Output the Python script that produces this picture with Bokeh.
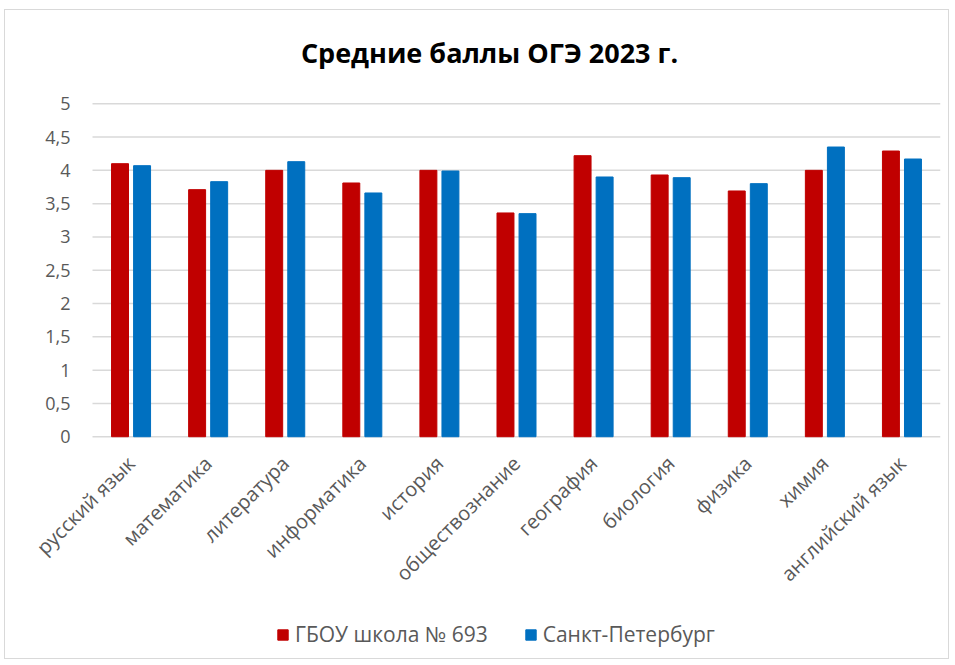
from bokeh.plotting import figure
from bokeh.models import ColumnDataSource, Range1d, Legend, LegendItem, Label
from bokeh.transform import dodge
from bokeh.core.properties import value
from bokeh.embed import file_html
from bokeh.resources import INLINE
import math

categories = ["русский язык", "математика", "литература", "информатика", "история",
              "обществознание", "география", "биология", "физика", "химия", "английский язык"]
school = [4.10, 3.71, 4.00, 3.81, 4.00, 3.36, 4.22, 3.93, 3.69, 4.00, 4.29]
spb = [4.07, 3.83, 4.13, 3.66, 3.99, 3.35, 3.90, 3.89, 3.80, 4.35, 4.17]
series_names = ["ГБОУ школа № 693", "Санкт-Петербург"]
y_ticks = [0, 0.5, 1, 1.5, 2, 2.5, 3, 3.5, 4, 4.5, 5]
y_tick_labels = ["0", "0,5", "1", "1,5", "2", "2,5", "3", "3,5", "4", "4,5", "5"]
title_text = "Средние баллы ОГЭ 2023 г."

RED = "#C00000"
BLUE = "#0070C0"
FONT = "Open Sans"
GRAY = "#595959"

n = len(categories)
idx = list(range(n))
src = ColumnDataSource(dict(idx=idx, cat=categories, school=school, spb=spb, base=[0] * n))
grid_src = ColumnDataSource(dict(y=y_ticks, lab=y_tick_labels,
                                 x0=[-0.5] * len(y_ticks), x1=[n - 0.5] * len(y_ticks)))

p = figure(x_range=Range1d(-1.6286, n - 0.5), y_range=Range1d(-3.36, 6.40),
           width=945, height=650, output_backend="svg", toolbar_location=None, title=None,
           min_border_left=0, min_border_right=10, min_border_top=0, min_border_bottom=0)
p.styles = {"border": "1px solid #d9d9d9", "margin-left": "4px", "margin-top": "9px"}
p.outline_line_color = None
p.background_fill_color = "white"
p.border_fill_color = "white"
p.xaxis.visible = False
p.yaxis.visible = False
p.xgrid.visible = False
p.ygrid.visible = False

# horizontal gridlines over the category span, with value labels on the left
p.segment(x0="x0", x1="x1", y0="y", y1="y", source=grid_src,
          line_color="#d9d9d9", line_width=1.5)
p.text(x="x0", y="y", text="lab", source=grid_src, x_offset=-22,
       text_align="right", text_baseline="middle", text_font=value(FONT),
       text_font_size="18px", text_color=GRAY)

r1 = p.vbar(x=dodge("idx", -0.143), top="school", width=0.22, source=src,
            fill_color=RED, line_color=RED)
r2 = p.vbar(x=dodge("idx", 0.143), top="spb", width=0.22, source=src,
            fill_color=BLUE, line_color=BLUE)

# category labels, rotated, hanging below the zero line
p.text(x="idx", y="base", text="cat", source=src,
       angle=math.pi / 4, text_align="right", text_baseline="middle",
       x_offset=0, y_offset=23, text_font=value(FONT), text_font_size="20px",
       text_color=GRAY)

title = Label(x=4.65, y=5.765, text=title_text, text_font=FONT,
              text_font_size="27px", text_font_style="bold", text_color="black",
              text_align="center", text_baseline="middle")
p.add_layout(title)

legend = Legend(items=[LegendItem(label=series_names[0], renderers=[r1]),
                       LegendItem(label=series_names[1], renderers=[r2])],
                orientation="horizontal", location=(271, 12),
                label_text_font=FONT, label_text_font_size="21px", label_text_color=GRAY,
                glyph_width=13, glyph_height=13, label_standoff=6, spacing=36,
                padding=0, margin=0, border_line_color=None, background_fill_alpha=0)
p.add_layout(legend, "center")

open("out.html", "w").write(file_html(p, INLINE))
